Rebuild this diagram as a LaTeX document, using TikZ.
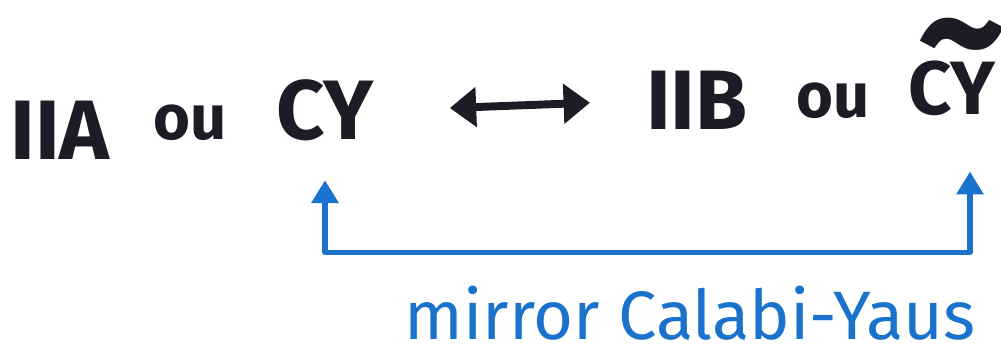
\documentclass[tikz,border=0pt]{standalone}
\usepackage{fontspec}
\setmainfont{Fira Sans}
\usepackage{amsmath}
\usetikzlibrary{arrows.meta}
\definecolor{mirrorblue}{HTML}{1A72CC}
\definecolor{inkblack}{HTML}{1E1B26}

\begin{document}
\begin{tikzpicture}[font=\fontsize{48}{52}\selectfont\bfseries, text=inkblack]
  \useasboundingbox (0,0) rectangle (20.02,7.2);
  \tikzset{
    theory/.style={inner sep=2pt, anchor=base},
    small/.style={font=\fontsize{36}{40}\selectfont\bfseries},
    duality/.style={line width=4.5pt, draw=inkblack, {Triangle[length=15pt,width=22pt]}-{Triangle[length=15pt,width=22pt]}},
    mirrorarrow/.style={line width=3pt, draw=mirrorblue, line join=round, {Triangle[length=13pt,width=15pt]}-{Triangle[length=13pt,width=15pt]}}
  }
  \node[theory] (iia) at (1.2,4.0) {IIA};
  \node[theory, small] (ou1) at (3.8,4.4) {ou};
  \node[theory] (cy) at (6.5,4.4) {CY};
  \node[theory] (iib) at (13.94,4.6) {IIB};
  \node[theory, small] (ou2) at (16.66,4.84) {ou};
  \node[theory, font=\fontsize{43}{46}\selectfont\bfseries] (cyt) at (19.03,4.9)
    {\makebox[0pt][l]{\hspace{0.12em}\raisebox{0.3em}{\scalebox{2.3}[2.4]{\textasciitilde}}}CY};
  \draw[duality, shorten <=1.45cm, shorten >=1.05cm] (cy.east) -- (iib.west);
  \draw[mirrorarrow] ([yshift=-0.7cm]cy.south) -- ++(0,-1.44) -| ([xshift=0.37cm, yshift=-1.03cm]cyt.south);
  \node[theory, font=\fontsize{39}{42}\selectfont, text=mirrorblue] (lbl) at (13.8,0.4) {mirror Calabi-Yaus};
\end{tikzpicture}
\end{document}
